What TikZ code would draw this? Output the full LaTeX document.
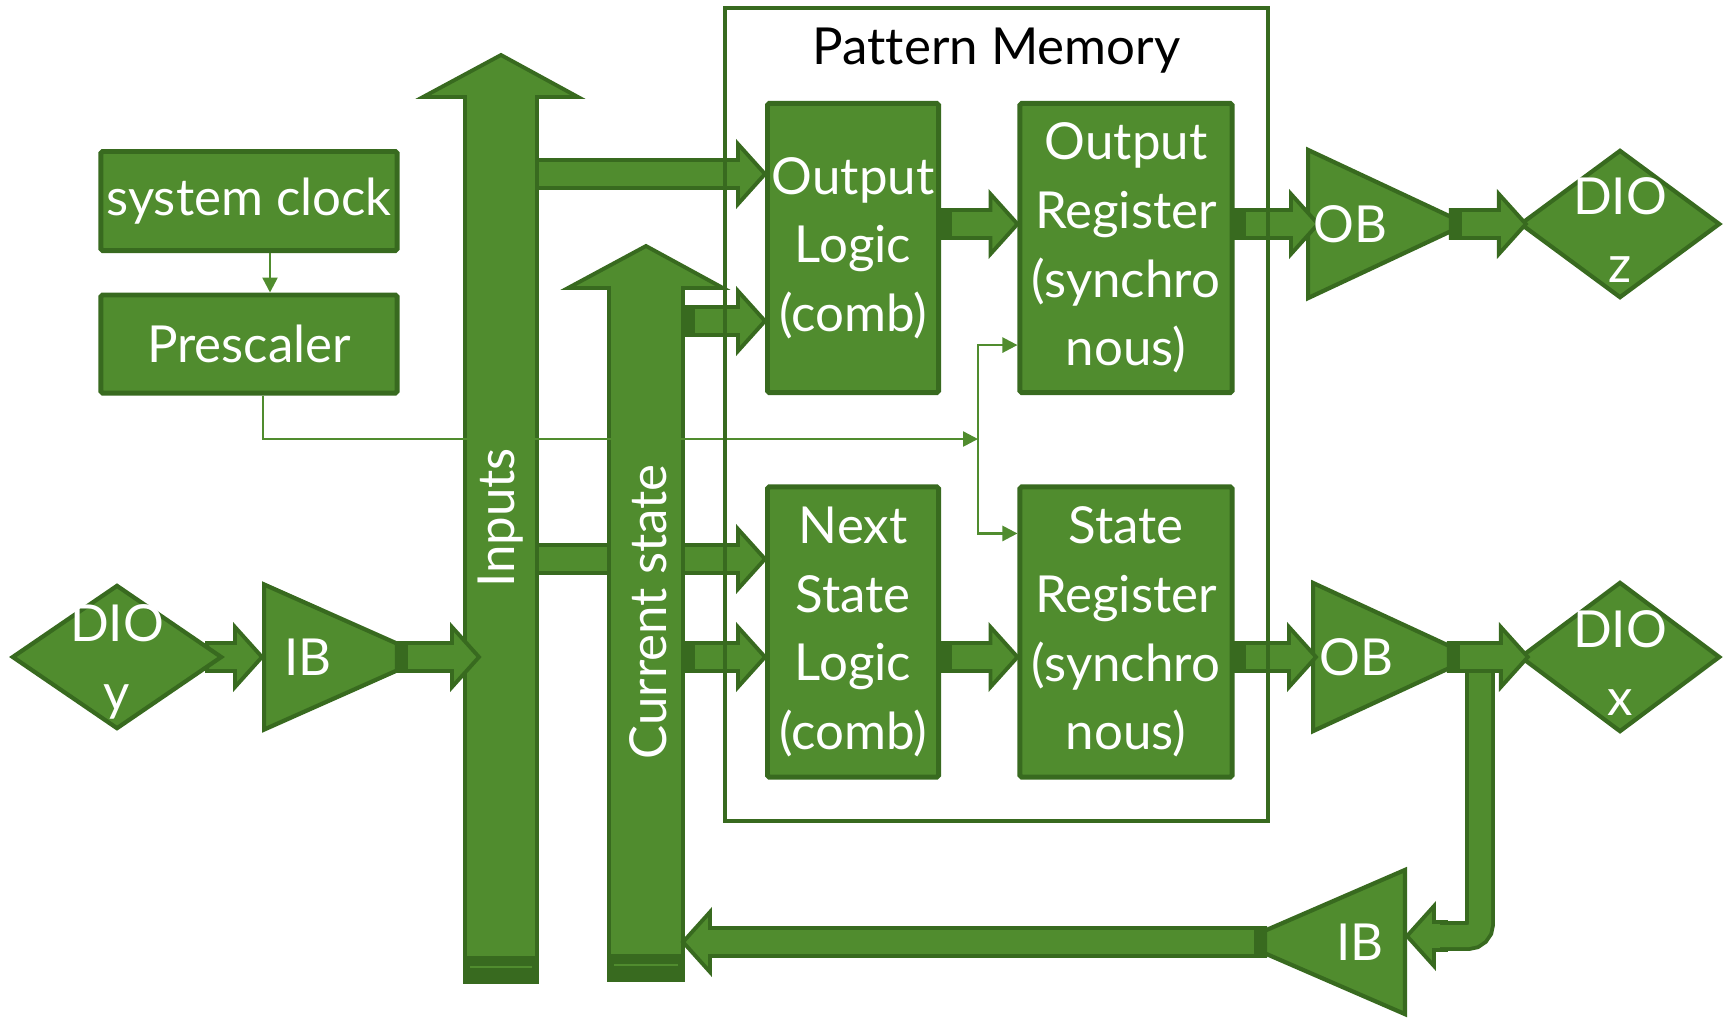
\documentclass[tikz,border=0pt]{standalone}
\usepackage{fontspec}
\setmainfont{Lato}[Ligatures=NoCommon]
\usetikzlibrary{arrows.meta,positioning,calc,shapes.geometric,backgrounds}
\definecolor{grn}{RGB}{80,140,46}
\definecolor{dgrn}{RGB}{56,106,31}
\newcommand{\dfont}{\fontsize{14.5}{19.5}\selectfont}
% fat bus arrow from #1 to #2
\newcommand{\busar}[2]{%
  \coordinate (hb) at ($(#2)!0.27cm!(#1)$);
  \filldraw[bus] ($(#1)!0.14cm!90:(#2)$) -- ($(hb)!0.14cm!-90:(#1)$)
    -- ($(hb)!0.30cm!-90:(#1)$) -- (#2) -- ($(hb)!0.30cm!90:(#1)$)
    -- ($(hb)!0.14cm!90:(#1)$) -- ($(#1)!0.14cm!-90:(#2)$) -- cycle;}
% same, with a dark tail
\newcommand{\busart}[2]{%
  \busar{#1}{#2}
  \coordinate (tl) at ($(#1)!0.11cm!(#2)$);
  \fill[dgrn] ($(#1)!0.16cm!90:(#2)$) -- ($(tl)!0.16cm!-90:(#1)$)
    -- ($(tl)!0.16cm!90:(#1)$) -- ($(#1)!0.16cm!-90:(#2)$) -- cycle;}
\tikzset{
  blk/.style={draw=dgrn,fill=grn,line width=1.4pt,rounded corners=0.5pt,text=white,align=center,font=\dfont,inner sep=0pt},
  buf/.style={isosceles triangle,isosceles triangle stretches,draw=dgrn,fill=grn,line width=1.2pt,inner sep=0pt},
  dio/.style={diamond,draw=dgrn,fill=grn,line width=1.2pt,inner sep=0pt},
  txt/.style={text=white,font=\dfont,align=center,inner sep=0pt},
  bus/.style={draw=dgrn,fill=grn,line width=1.1pt},
  busdbl/.style={draw=dgrn,line width=1.1pt,double=grn,double distance=0.22cm,rounded corners=0.12cm},
  clk/.style={grn,line width=0.7pt,-{Triangle[length=0.15cm,width=0.15cm]}},
  frm/.style={draw=dgrn,line width=1.2pt,minimum width=5.43cm,minimum height=8.13cm},
}

\begin{document}
\begin{tikzpicture}[x=0.01cm,y=-0.01cm]
  \useasboundingbox (0,0) rectangle (1728,1017);
  % the two vertical buses
  \filldraw[bus] (465,982) -- (465,97) -- (423,97) -- (501,55) -- (578,97) -- (537,97) -- (537,982) -- cycle;
  \fill[dgrn] (463,956) rectangle (539,984); \draw[grn,line width=0.8pt] (470,967) -- (532,967);
  \filldraw[bus] (609,980) -- (609,288) -- (568,288) -- (646,246) -- (723,288) -- (683,288) -- (683,980) -- cycle;
  \fill[dgrn] (607,954) rectangle (685,982); \draw[grn,line width=0.8pt] (614,965) -- (678,965);
  \node[txt,rotate=90] (inlbl) at (501,518) {Inputs};
  \node[txt,rotate=90] (cslbl) at (648,612) {Current state};
  % blocks
  \node[blk,minimum width=2.96cm,minimum height=0.99cm] (sysclk) at (249,201) {system clock};
  \node[blk,minimum width=2.96cm,minimum height=0.98cm] (presc) at (249,344) {Prescaler};
  \node[blk,minimum width=1.71cm,minimum height=2.89cm] (ol) at (853,248) {Output\\Logic\\(comb)};
  \node[blk,minimum width=2.12cm,minimum height=2.89cm] (oreg) at (1126,248) {Output\\Register\\(synchro\\nous)};
  \node[blk,minimum width=1.71cm,minimum height=2.90cm] (nsl) at (853,632) {Next\\State\\Logic\\(comb)};
  \node[blk,minimum width=2.12cm,minimum height=2.90cm] (sreg) at (1126,632) {State\\Register\\(synchro\\nous)};
  % buffers and pins (width = base, height = apex length)
  \node[buf,minimum height=1.63cm,minimum width=1.45cm,anchor=lower side] (ibY) at (262,657) {};
  \node[buf,minimum height=1.58cm,minimum width=1.48cm,anchor=lower side] (obT) at (1306,224) {};
  \node[buf,minimum height=1.60cm,minimum width=1.48cm,anchor=lower side] (obB) at (1311,657) {};
  \node[buf,shape border rotate=180,minimum height=1.66cm,minimum width=1.44cm,anchor=lower side] (ibB) at (1407,942) {};
  \node[dio,minimum width=2.10cm,minimum height=1.44cm,label={[txt,yshift=-0.05cm]center:DIO\\y}] (dioY) at (117,657) {};
  \node[dio,minimum width=2.00cm,minimum height=1.48cm,label={[txt,yshift=-0.06cm]center:DIO\\z}] (dioZ) at (1620,224) {};
  \node[dio,minimum width=2.00cm,minimum height=1.50cm,label={[txt,yshift=-0.06cm]center:DIO\\x}] (dioX) at (1620,657) {};
  % bus ends
  \coordinate (rowT) at (0,224);
  \coordinate (rowB) at (0,657);
  \coordinate (inTop) at (537,174);
  \coordinate (inMid) at (537,559);
  \coordinate (inIn) at (479,657);
  \coordinate (csTop) at (684,321);
  \coordinate (csMid) at (684,657);
  \coordinate (csBot) at (683,942);
  \coordinate (ibYo) at ($(ibY.apex)+(-36,0)$);
  \coordinate (dyo) at ($(dioY.east)+(-17,0)$);
  \coordinate (obTi) at ($(obT.lower side)+(12,0)$);
  \coordinate (obTo) at ($(obT.apex)+(-21,0)$);
  \coordinate (dzi) at ($(dioZ.west)+(8,0)$);
  \coordinate (obBi) at ($(obB.lower side)+(5,0)$);
  \coordinate (obBo) at ($(obB.apex)+(-30,0)$);
  \coordinate (dxi) at ($(dioX.west)+(10,0)$);
  \coordinate (ibBo) at ($(ibB.apex)+(32,0)$);
  \coordinate (brA) at (1480,657);
  \coordinate (brB) at (1446,936);
  \coordinate (brC) at (1440,936);
  \begin{pgfonlayer}{background}
    \busar{inMid}{inMid -| nsl.west}
    \busar{dyo}{ibY.lower side}
  \end{pgfonlayer}
  \busar{inTop}{inTop -| ol.west}
  \busart{csTop}{csTop -| ol.west}
  \busart{csMid}{csMid -| nsl.west}
  \busart{ol.east |- rowT}{oreg.west |- rowT}
  \busart{nsl.east |- rowB}{sreg.west |- rowB}
  \busart{oreg.east |- rowT}{obTi}
  \busart{sreg.east |- rowB}{obBi}
  \busart{obTo}{dzi}
  \busar{brB}{brB -| ibB.east}
  \draw[busdbl] (brA) |- (brC);
  \busart{obBo}{dxi}
  \busart{ibYo}{inIn}
  \busart{ibBo}{csBot}
  % clock
  \coordinate (ckV) at (978,439);
  \coordinate (ckA) at ($(oreg.north west)!0.83!(oreg.south west)$);
  \coordinate (ckB) at ($(sreg.north west)!0.166!(sreg.south west)$);
  \draw[clk] ([xshift=0.21cm]sysclk.south) -- ([xshift=0.21cm]presc.north);
  \draw[clk] ([xshift=0.14cm]presc.south) |- (ckV);
  \draw[clk] (ckV) |- (ckA);
  \draw[clk] (ckV) |- (ckB);
  % pattern memory frame
  \node[frm] (pm) at (996.5,414.5) {};
  \node[below=0.22cm of pm.north,inner sep=0pt,font=\dfont] (pmt) {Pattern Memory};
  % buffer labels
  \node[txt] (ibYt) at ($(ibY.lower side)!0.27!(ibY.apex)$) {IB};
  \node[txt] (obTt) at ($(obT.lower side)!0.27!(obT.apex)$) {OB};
  \node[txt] (obBt) at ($(obB.lower side)!0.27!(obB.apex)$) {OB};
  \node[txt] (ibBt) at ($(ibB.lower side)!0.27!(ibB.apex)$) {IB};
\end{tikzpicture}
\end{document}
